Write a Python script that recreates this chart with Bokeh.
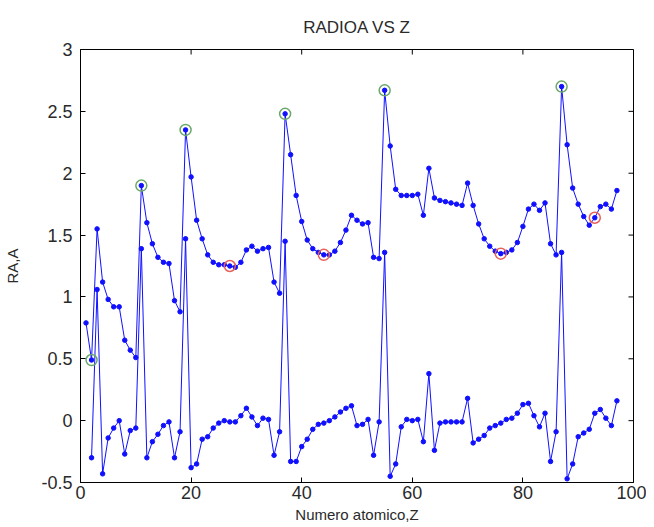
import math
from bokeh.plotting import figure
from bokeh.models import FixedTicker, Range1d, ColumnDataSource
from bokeh.embed import file_html
from bokeh.resources import INLINE

# Atomic number Z = 1..97 and the radius RA (upper curve)
z_upper = list(range(1, 98))
ra = [0.79, 0.49, 1.55, 1.12, 0.98, 0.92, 0.92, 0.65, 0.57, 0.51,
      1.90, 1.60, 1.43, 1.32, 1.28, 1.27, 0.97, 0.88, 2.35, 1.97,
      1.62, 1.47, 1.34, 1.28, 1.26, 1.26, 1.25, 1.24, 1.28, 1.38,
      1.41, 1.37, 1.39, 1.40, 1.12, 1.03, 2.48, 2.15, 1.82, 1.61,
      1.46, 1.39, 1.36, 1.34, 1.34, 1.37, 1.44, 1.54, 1.66, 1.62,
      1.59, 1.60, 1.32, 1.31, 2.67, 2.22, 1.87, 1.82, 1.82, 1.82,
      1.83, 1.66, 2.04, 1.80, 1.78, 1.77, 1.76, 1.75, 1.74, 1.92,
      1.74, 1.59, 1.47, 1.41, 1.37, 1.35, 1.36, 1.38, 1.44, 1.57,
      1.71, 1.75, 1.70, 1.76, 1.43, 1.34, 2.70, 2.23, 1.88, 1.75,
      1.65, 1.58, 1.64, 1.73, 1.75, 1.71, 1.86]

# Lower curve (Z = 2..97)
z_lower = list(range(2, 98))
dra = [-0.30, 1.06, -0.43, -0.14, -0.06, 0.00, -0.27, -0.08, -0.06,
       1.39, -0.30, -0.17, -0.11, -0.04, -0.01, -0.30, -0.09, 1.47, -0.38,
       -0.35, -0.15, -0.13, -0.06, -0.02, 0.00, -0.01, -0.01, 0.04, 0.10,
       0.03, -0.04, 0.02, 0.01, -0.28, -0.09, 1.45, -0.33, -0.33, -0.21,
       -0.15, -0.07, -0.03, -0.02, 0.00, 0.03, 0.07, 0.10, 0.12, -0.04,
       -0.03, 0.01, -0.28, -0.01, 1.36, -0.45, -0.35, -0.05, 0.01, 0.00,
       0.01, -0.17, 0.38, -0.24, -0.02, -0.01, -0.01, -0.01, -0.01, 0.18,
       -0.18, -0.15, -0.12, -0.06, -0.04, -0.02, 0.01, 0.02, 0.06, 0.13,
       0.14, 0.04, -0.05, 0.06, -0.33, -0.09, 1.36, -0.47, -0.35, -0.13,
       -0.10, -0.07, 0.06, 0.09, 0.02, -0.04, 0.16]

# Highlighted elements
z_green = [2, 11, 19, 37, 55, 87]
z_red = [27, 44, 76, 93]

x_ticks = [0, 20, 40, 60, 80, 100]
y_ticks = [-0.5, 0, 0.5, 1, 1.5, 2, 2.5, 3]
y_tick_labels = ["-0.5", "0", "0.5", "1", "1.5", "2", "2.5", "3"]
x_min, x_max = 0, 100
y_min, y_max = -0.5, 3

FONT = "Liberation Sans"
TXT = "#2a2a2a"

p = figure(width=646, height=525, x_range=Range1d(x_min, x_max), y_range=Range1d(y_min, y_max),
           output_backend="svg", toolbar_location=None,
           min_border_left=80, min_border_right=13, min_border_top=49, min_border_bottom=41)
p.background_fill_color = "white"
p.border_fill_color = "white"
p.outline_line_color = "black"
p.outline_line_width = 1
p.xgrid.visible = False
p.ygrid.visible = False

p.title.text = "RADIOA VS Z"
p.title.align = "center"
p.title.text_font = FONT
p.title.text_font_size = "17px"
p.title.text_font_style = "normal"
p.title.text_color = TXT
p.title.standoff = 26

def style_axis(ax, ticks):
    ax.ticker = FixedTicker(ticks=ticks)
    ax.major_tick_in = 5
    ax.major_tick_out = 0
    ax.minor_tick_line_color = None
    ax.axis_line_color = "black"
    ax.major_tick_line_color = "black"
    ax.major_label_text_font = FONT
    ax.major_label_text_color = TXT
    ax.major_label_text_font_size = "18px"
    ax.axis_label_text_font = FONT
    ax.axis_label_text_font_style = "normal"
    ax.axis_label_text_color = TXT

xa = p.xaxis[0]
style_axis(xa, x_ticks)
xa.axis_label = "Numero atomico,Z"
xa.axis_label_text_font_size = "15px"
xa.major_label_standoff = 3
xa.axis_label_standoff = 4

ya = p.yaxis[0]
style_axis(ya, y_ticks)
ya.major_label_overrides = {t: s for t, s in zip(y_ticks, y_tick_labels)}
ya.axis_label = "RA,A"
ya.axis_label_text_font_size = "15px"
ya.major_label_standoff = 8
ya.axis_label_standoff = 17

# inward ticks on the top and right edges of the box
p.ray(x=x_ticks, y=[y_max] * len(x_ticks), length=5, length_units="screen",
      angle=-math.pi / 2, line_color="black", line_width=1)
p.ray(x=[x_max] * len(y_ticks), y=y_ticks, length=5, length_units="screen",
      angle=math.pi, line_color="black", line_width=1)

BLUE = "#1010ff"
up = ColumnDataSource(dict(z=z_upper, r=ra))
lo = ColumnDataSource(dict(z=z_lower, r=dra))
for src in (up, lo):
    p.line("z", "r", source=src, line_color=BLUE, line_width=1)
    p.scatter("z", "r", source=src, size=4.5, fill_color=BLUE, line_color=BLUE)

p.scatter(z_green, [ra[z - 1] for z in z_green], size=11, fill_color=None,
          line_color="#6aa86a", line_width=1.5)
p.scatter(z_red, [ra[z - 1] for z in z_red], size=11, fill_color=None,
          line_color="#e8605a", line_width=1.5)

open("out.html", "w").write(file_html(p, INLINE))
